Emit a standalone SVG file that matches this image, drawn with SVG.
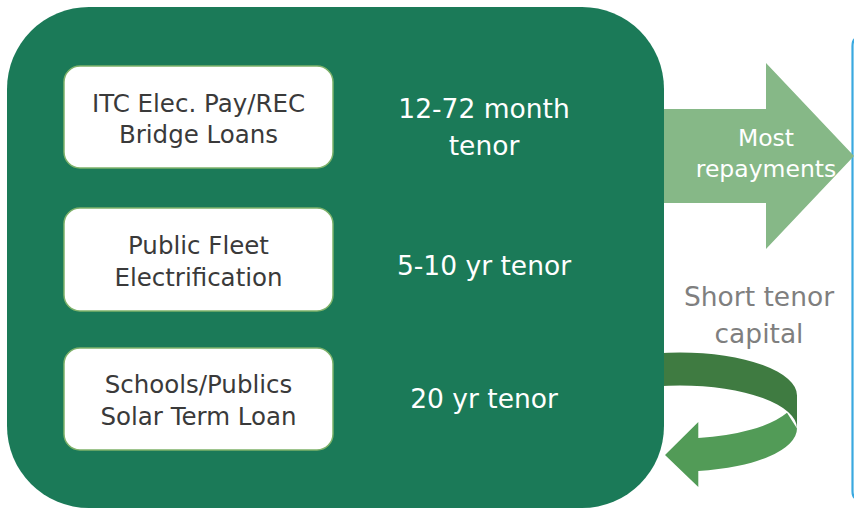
<svg xmlns="http://www.w3.org/2000/svg" width="854" height="510" viewBox="0 0 854 510">
  <style>
    .panel { fill: #1B7A58; }
    .box { fill: #FFFFFF; stroke: #7FB26A; stroke-width: 1.5; }
    .boxtxt { font-family: "DejaVu Sans", "Open Sans", sans-serif; font-size: 24.5px; fill: #3A3A3A; text-anchor: middle; }
    .tenor { font-family: "DejaVu Sans", "Open Sans", sans-serif; font-size: 26.5px; fill: #FFFFFF; text-anchor: middle; }
    .arrowtxt { font-family: "DejaVu Sans", "Open Sans", sans-serif; font-size: 23.5px; fill: #FFFFFF; text-anchor: middle; }
    .graytxt { font-family: "DejaVu Sans", "Open Sans", sans-serif; font-size: 26.5px; fill: #7F7F7F; text-anchor: middle; }
  </style>

  <rect width="854" height="510" fill="#FFFFFF"/>

  <!-- edge of the neighbouring panel on the right -->
  <path d="M 857 38 Q 852.5 39 852.5 46 L 852.5 491 Q 852.5 498 857 499" fill="none" stroke="#3AA9E0" stroke-width="2.2"/>

  <g id="connectors">
    <!-- outgoing repayments arrow -->
    <g id="arrow-repayments">
      <polygon points="640,109 766,109 766,63 854,156 766,249 766,203 640,203" fill="#86B887"/>
      <text class="arrowtxt" x="766" y="146">Most</text>
      <text class="arrowtxt" x="766" y="177">repayments</text>
    </g>
    <!-- recycling loop arrow -->
    <g id="arrow-recycle">
      <path d="M 563 395.5 A 117 43 0 0 1 797 395.5 L 797 428.5 A 117 43 0 0 0 563 428.5 Z" fill="#3F7B41"/>
      <path d="M 787 412.8 A 117 43 0 0 1 698.3 438 L 698.3 422 L 665 455 L 698.3 487 L 698.3 471 A 117 43 0 0 0 797 428.5 Z" fill="#529B57"/>
      <text class="graytxt" x="759" y="306">Short tenor</text>
      <text class="graytxt" x="759" y="343">capital</text>
    </g>
  </g>

  <!-- lending panel -->
  <g id="panel">
    <rect class="panel" x="7" y="7" width="657" height="501" rx="82" ry="82"/>
  </g>

  <g id="node-itc">
    <rect class="box" x="64" y="66" width="269" height="102" rx="16"/>
    <text class="boxtxt" x="198.5" y="112">ITC Elec. Pay/REC</text>
    <text class="boxtxt" x="198.5" y="143">Bridge Loans</text>
  </g>
  <g id="tenor-itc">
    <text class="tenor" x="484" y="118">12-72 month</text>
    <text class="tenor" x="484" y="155">tenor</text>
  </g>

  <g id="node-fleet">
    <rect class="box" x="64" y="208" width="269" height="103" rx="16"/>
    <text class="boxtxt" x="198.5" y="254">Public Fleet</text>
    <text class="boxtxt" x="198.5" y="286">Electrification</text>
  </g>
  <g id="tenor-fleet">
    <text class="tenor" x="484" y="275">5-10 yr tenor</text>
  </g>

  <g id="node-schools">
    <rect class="box" x="64" y="348" width="269" height="102" rx="16"/>
    <text class="boxtxt" x="198.5" y="393">Schools/Publics</text>
    <text class="boxtxt" x="198.5" y="425">Solar Term Loan</text>
  </g>
  <g id="tenor-schools">
    <text class="tenor" x="484" y="408">20 yr tenor</text>
  </g>
</svg>
